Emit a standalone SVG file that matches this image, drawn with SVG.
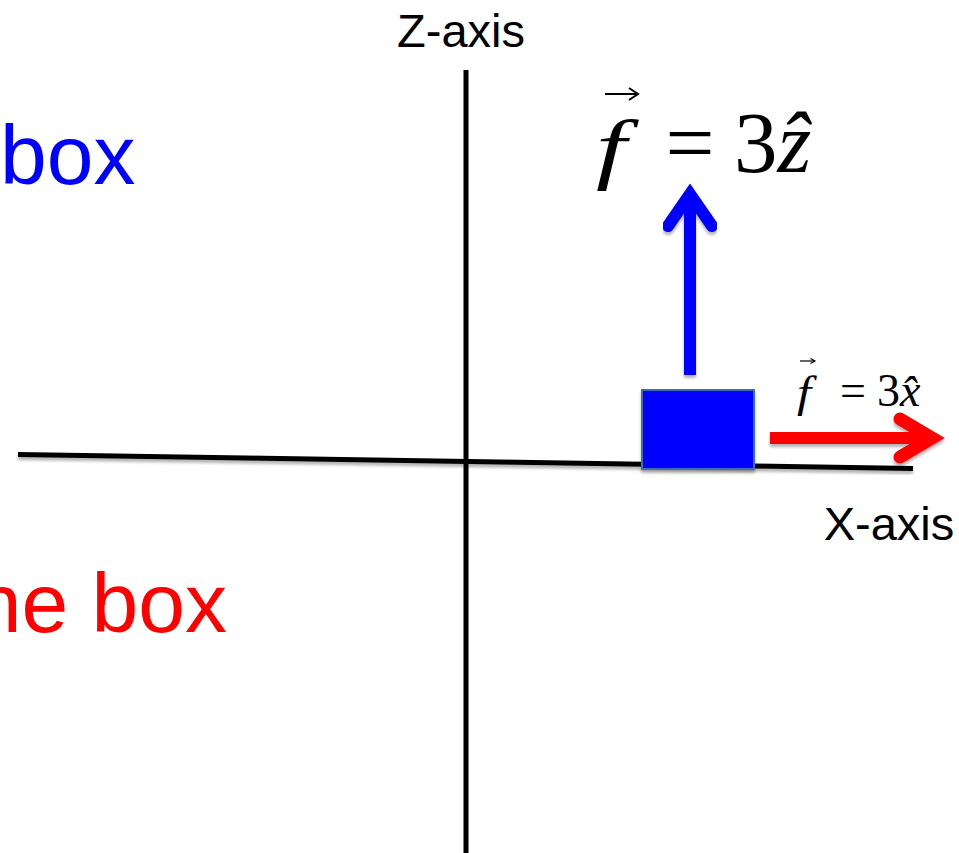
<svg xmlns="http://www.w3.org/2000/svg" width="959" height="853" viewBox="0 0 959 853">
  <defs>
    <filter id="sh" x="-10%" y="-20%" width="120%" height="160%">
      <feDropShadow dx="0" dy="3" stdDeviation="1.5" flood-color="#000" flood-opacity="0.3"/>
    </filter>
    <style>
      .sans { font-family: "Liberation Sans", Arial, sans-serif; }
      .serif { font-family: "Liberation Serif", "Times New Roman", serif; }
      .it { font-style: italic; }
      .axis { stroke: #000; stroke-width: 5; fill: none; }
    </style>
  </defs>
  <rect width="959" height="853" fill="#fff"/>

  <g id="captions">
    <text class="sans" x="0" y="184" font-size="84" fill="#0000ff">box</text>
    <text class="sans" x="227" y="632" font-size="84" fill="#ff0000" text-anchor="end">ne box</text>
  </g>

  <g id="connectors">
    <line class="axis" x1="466" y1="70" x2="466" y2="853"/>
    <line class="axis" x1="18" y1="454.5" x2="913" y2="468.5" filter="url(#sh)"/>
    <g id="force-z" filter="url(#sh)">
      <line x1="690" y1="375" x2="690" y2="200" stroke="#0000ff" stroke-width="12"/>
      <polyline points="668,226 690,194 712,226" fill="none" stroke="#0000ff" stroke-width="12" stroke-linecap="round" stroke-linejoin="miter" stroke-miterlimit="10"/>
    </g>
    <g id="force-x" filter="url(#sh)">
      <line x1="770" y1="438" x2="925" y2="438" stroke="#ff0000" stroke-width="12"/>
      <polyline points="900,419 932,438 900,457" fill="none" stroke="#ff0000" stroke-width="13" stroke-linecap="round" stroke-linejoin="miter" stroke-miterlimit="10"/>
    </g>
  </g>

  <g id="z-axis-label">
    <text class="sans" x="461" y="47" font-size="47" text-anchor="middle">Z-axis</text>
  </g>
  <g id="x-axis-label">
    <text class="sans" x="889" y="540" font-size="47" text-anchor="middle">X-axis</text>
  </g>

  <g id="box">
    <rect x="642" y="390" width="112" height="79" fill="#0000ff" stroke="#3c6eb4" stroke-width="2" filter="url(#sh)"/>
  </g>

  <g id="eq-z">
    <text class="serif it" transform="translate(596,174) scale(1.4,1)" font-size="78">f</text>
    <line x1="605" y1="94" x2="636" y2="94" stroke="#000" stroke-width="2"/>
    <path d="M629,88 L638,94 L629,100" fill="none" stroke="#000" stroke-width="2"/>
    <text class="serif" x="665.5" y="172" font-size="87">=</text>
    <text class="serif" x="734" y="172" font-size="87">3<tspan class="it">ẑ</tspan></text>
  </g>

  <g id="eq-x">
    <text class="serif it" transform="translate(797,407) scale(1.15,1)" font-size="44">f</text>
    <line x1="800" y1="361" x2="814" y2="361" stroke="#000" stroke-width="1.2"/>
    <path d="M810.5,358.5 L815,361 L810.5,363.5" fill="none" stroke="#000" stroke-width="1.2"/>
    <text class="serif" x="840" y="406" font-size="46">=</text>
    <text class="serif" x="877" y="406" font-size="46">3<tspan class="it">x̂</tspan></text>
  </g>
</svg>
